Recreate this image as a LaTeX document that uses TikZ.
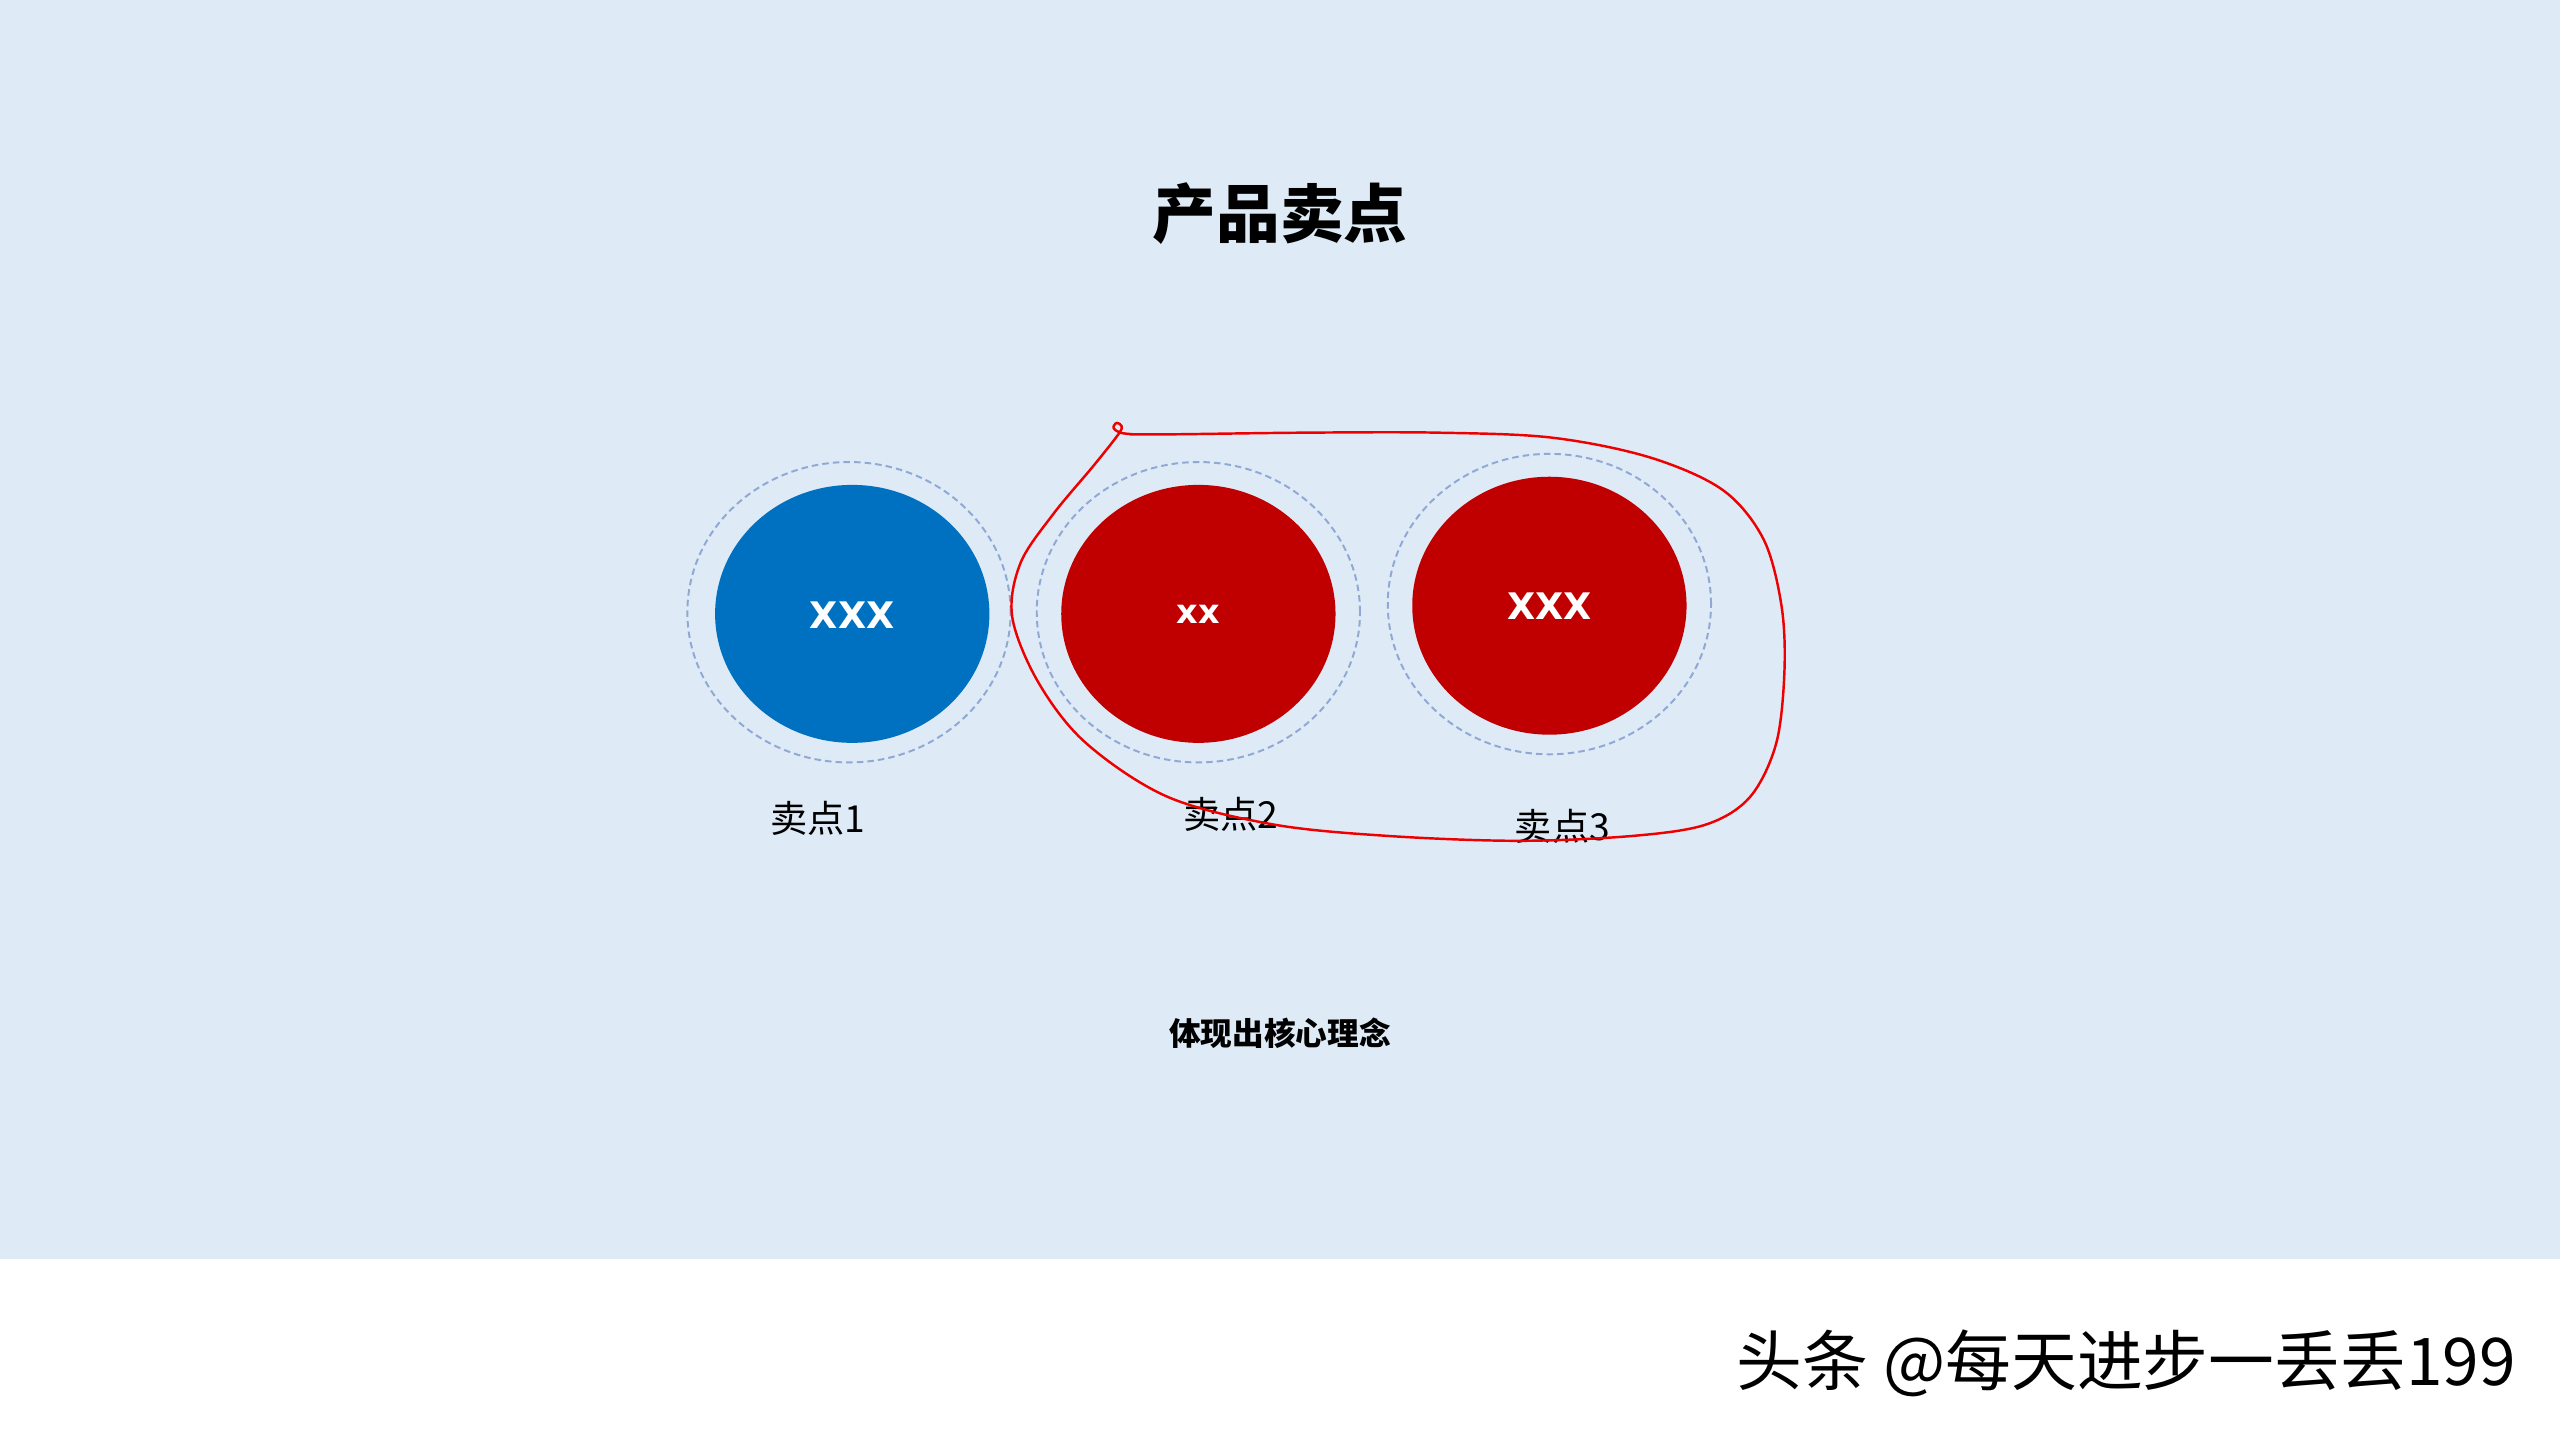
\documentclass[tikz,border=0pt]{standalone}
\usepackage{fontspec}
\usetikzlibrary{shapes.geometric}
\newfontfamily\cjk{Noto Sans CJK SC}
\newfontfamily\latinbold{DejaVu Sans}
\definecolor{bgblue}{HTML}{DEEAF6}
\definecolor{discblue}{HTML}{0070C0}
\definecolor{discred}{HTML}{C00000}
\definecolor{ringcol}{HTML}{90A8D4}
\definecolor{inkred}{HTML}{EE0000}
\tikzset{
  disc/.style={ellipse, minimum width=168pt, minimum height=158pt, inner sep=0pt, draw=none, text=white},
  ring/.style={ellipse, minimum width=198pt, minimum height=184pt, inner sep=0pt, draw=ringcol, line width=1.2pt, dash pattern=on 4pt off 2.5pt},
  disctext/.style={font=\latinbold\bfseries\fontsize{22.4}{26}\selectfont},
  smalltext/.style={font=\latinbold\bfseries\fontsize{20.5}{24}\selectfont},
  label/.style={font=\cjk\fontsize{22.8}{27}\selectfont, text=black, inner sep=0pt},
}
\begin{document}
\begin{tikzpicture}[x=1pt,y=-1pt]
\useasboundingbox (0,0) rectangle (1568,882);
\fill[white] (0,0) rectangle (1568,882);
\fill[bgblue] (0,0) rectangle (1568,771);

\node[font=\cjk\bfseries\fontsize{39}{47}\selectfont, inner sep=0pt] (title) at (784,131) {产品卖点};

\node[ring] (r1) at (520,375) {};
\node[ring] (r2) at (734,375) {};
\node[ring] (r3) at (949,370) {};

\node[disc, fill=discblue] (c1) at (522,376) {};
\node[disc, fill=discred] (c2) at (734,376) {};
\node[disc, fill=discred] (c3) at (949,371) {};

\node[disctext, text=white, inner sep=0pt] (t1) at (522,377) {XXX};
\node[smalltext, text=white, inner sep=0pt] (t2) at (734,376) {xx};
\node[disctext, text=white, inner sep=0pt] (t3) at (949,371) {XXX};

\node[label] (l1) at (501,501) {卖点1};
\node[label] (l2) at (754,499) {卖点2};
\node[label] (l3) at (957,506) {卖点3};

\node[font=\cjk\bfseries\fontsize{19.4}{23}\selectfont, inner sep=0pt] (sub) at (784,633) {体现出核心理念};

\draw[inkred, line width=1.5pt, line cap=round, line join=round] plot[smooth, tension=0.55] coordinates {
 (692,266) (720,266) (800,265) (880,265) (950,268) (1010,280) (1055,300) (1080,330) (1091,370) (1093,410) (1088,455) (1072,488) (1045,505) (1000,512) (930,515) (850,512) (780,505) (715,488) (665,455) (636,418) (620,378) (625,345) (645,315) (670,285) (685,266) (687,261) (684,259) (682,262) (686,265) (694,266)};

\node[font=\cjk\fontsize{40.3}{48}\selectfont, inner sep=0pt, anchor=east] (mark) at (1541,835) {头条 @每天进步一丢丢199};
\end{tikzpicture}
\end{document}
